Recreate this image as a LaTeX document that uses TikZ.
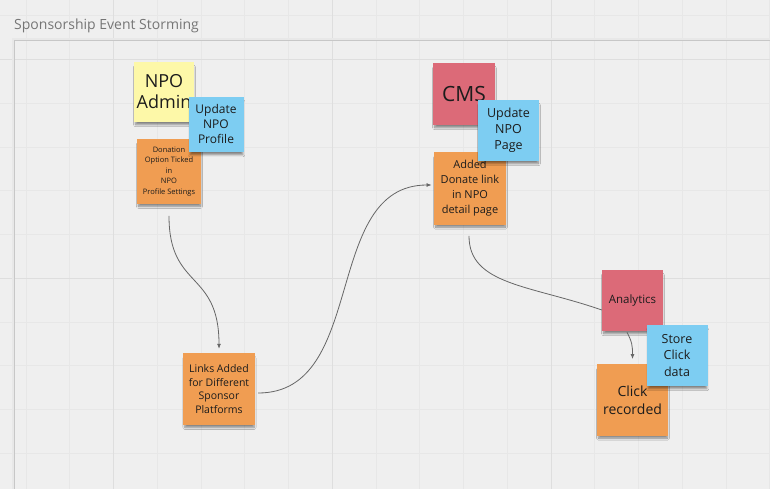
\documentclass[tikz,border=0pt]{standalone}
\usepackage{fontspec}
\setmainfont{Open Sans}
\usetikzlibrary{arrows.meta,shadows.blur}
\definecolor{bg}{HTML}{EFEFEF}
\definecolor{gminor}{HTML}{E7E7E7}
\definecolor{gmajor}{HTML}{DEDEDE}
\definecolor{yel}{HTML}{FDF8A8}
\definecolor{blu}{HTML}{7DCDF2}
\definecolor{ora}{HTML}{F09D52}
\definecolor{redn}{HTML}{DC6A78}
\definecolor{ink}{HTML}{1C1C1C}
\definecolor{lnk}{HTML}{666666}
\definecolor{ttl}{HTML}{757575}
\begin{document}
\begin{tikzpicture}[x=1pt,y=-1pt,
  sticky/.style={rectangle, inner sep=1pt, align=center, text=ink,
    blur shadow={shadow xshift=0.5pt, shadow yshift=-4pt, shadow scale=0.96, shadow opacity=45, shadow blur steps=6}},
  sq/.style={minimum width=#1, minimum height=#1},
  conn/.style={draw=lnk, line width=0.8pt},
  tip/.style={-{Latex[length=5pt,width=4pt]}}]
\useasboundingbox (0,0) rectangle (770,489);
\fill[bg] (0,0) rectangle (770,489);
% grid
\foreach \i in {0,...,17} \draw[gminor, line width=0.6pt] ({26+\i*43.75},0) -- ({26+\i*43.75},489);
\foreach \j in {0,...,10} \draw[gminor, line width=0.6pt] (0,{15.75+\j*43.75}) -- (770,{15.75+\j*43.75});
\foreach \v in {113.5,332.25,551} \draw[gmajor, line width=0.7pt] (\v,0) -- (\v,489);
\foreach \h in {59.5,278.25} \draw[gmajor, line width=0.7pt] (0,\h) -- (770,\h);
% frame
\draw[black!9, line width=3pt] (13,520) -- (13,40) -- (800,40);
\draw[black!22, line width=1pt] (14,520) -- (14,41) -- (800,41);
% title
\node[anchor=base west, inner sep=0pt, text=ttl, font=\fontsize{14}{16}\selectfont] (title) at (14,30) {Sponsorship Event Storming};
% left group
\node[sticky, fill=yel, sq=60pt, font=\fontsize{18}{21}\selectfont] (admin) at (164,92) {NPO\\Admin};
\node[sticky, fill=ora, sq=64.5pt, font=\fontsize{7.5}{10.5}\selectfont] (don) at (169,171.5) {Donation\\Option Ticked\\in\\NPO\\Profile Settings};
\node[sticky, fill=blu, sq=55pt, font=\fontsize{12}{15}\selectfont] (updprof) at (216,124.5) {Update\\NPO\\Profile};
\node[sticky, fill=ora, sq=72pt, font=\fontsize{10.5}{13.5}\selectfont] (links) at (219,389) {Links Added\\for Different\\Sponsor\\Platforms};
% middle group
\node[sticky, fill=redn, sq=62pt, font=\fontsize{21}{24}\selectfont] (cms) at (464,94) {CMS};
\node[sticky, fill=ora, sq=72.5pt, font=\fontsize{11}{15}\selectfont] (added) at (470,188.5) {Added\\Donate link\\in NPO\\detail page};
\node[sticky, fill=blu, sq=61pt, font=\fontsize{12.5}{16}\selectfont] (updpage) at (508.5,130.5) {Update\\NPO\\Page};
% right group
\node[sticky, fill=redn, sq=61pt, font=\fontsize{11.5}{14}\selectfont] (analytics) at (632.5,300.5) {Analytics};
\node[sticky, fill=ora, sq=71.5pt, font=\fontsize{14}{18}\selectfont] (click) at (632.5,400) {Click\\recorded};
\node[sticky, fill=blu, sq=61pt, font=\fontsize{12.5}{16.5}\selectfont] (store) at (677,355.5) {Store\\Click\\data};
% connectors
\draw[conn, tip] ([yshift=-12pt]don.south) .. controls +(0,74) and +(0,-79) .. ([yshift=4pt]links.north);
\draw[conn, tip] ([xshift=3pt,yshift=-4pt]links.east) .. controls +(110,0) and +(-110,0) .. ([xshift=-2pt,yshift=3.5pt]added.west);
\draw[conn] ([xshift=-1pt,yshift=-11pt]added.south) .. controls +(0,49) and +(-72,-25) .. ([yshift=-9.5pt]analytics.west);
\draw[conn, tip] ([xshift=-5.5pt,yshift=-1pt]analytics.south) .. controls +(5,10) and +(0,-14) .. ([yshift=5pt]click.north);
\end{tikzpicture}
\end{document}
